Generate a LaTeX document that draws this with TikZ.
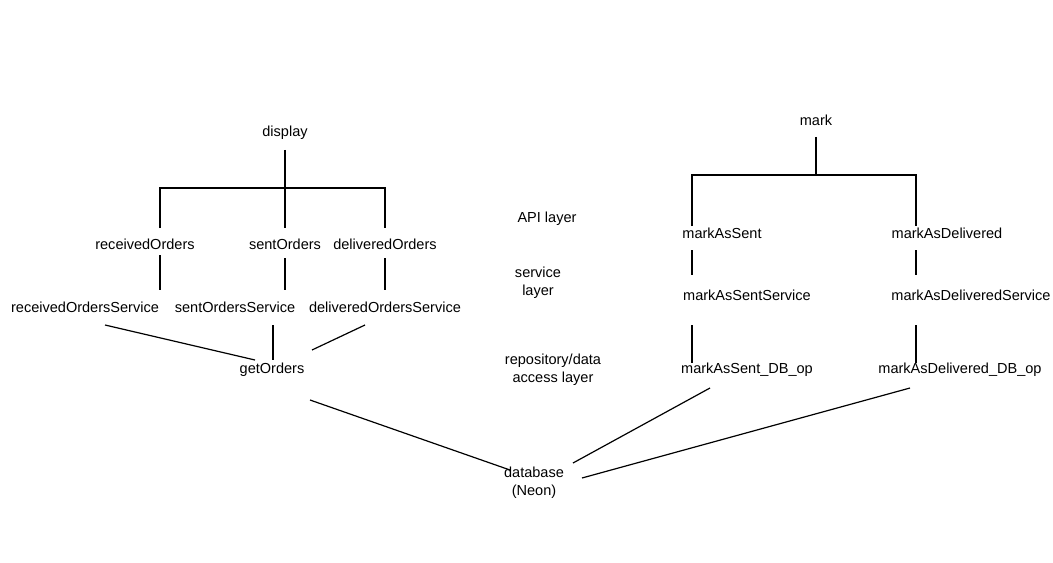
\documentclass[tikz,border=0pt]{standalone}
\usepackage{fontspec}
\setmainfont{Liberation Sans}
\begin{document}
\begin{tikzpicture}[x=0.75pt,y=-0.75pt,
  t/.style={font=\fontsize{10.9pt}{13.5pt}\selectfont,inner sep=1pt,align=center},
  l/.style={line width=0.9pt}]
\useasboundingbox (0,0) rectangle (1053,563);
\node[t] (display) at (285,133) {display};
\node[t] (rO) at (145,244) {receivedOrders};
\node[t] (sO) at (285,244) {sentOrders};
\node[t] (dO) at (385,244) {deliveredOrders};
\node[t] (rOS) at (85,307) {receivedOrdersService};
\node[t] (sOS) at (235,307) {sentOrdersService};
\node[t] (dOS) at (385,307) {deliveredOrdersService};
\node[t] (gO) at (272,370) {getOrders};
\node[t] (db) at (534,483) {database\\(Neon)};
\node[t] (api) at (547,219) {API layer};
\node[t] (svc) at (538,283) {service\\layer};
\node[t] (repo) at (553,370) {repository/data\\access layer};
\node[t] (mark) at (816,120) {mark};
\node[t] (mS) at (722,233) {markAsSent};
\node[t] (mD) at (947,233) {markAsDelivered};
\node[t] (mSS) at (747,295) {markAsSentService};
\node[t] (mDS) at (971,295) {markAsDeliveredService};
\node[t] (mSD) at (747,370) {markAsSent\_DB\_op};
\node[t] (mDD) at (960,370) {markAsDelivered\_DB\_op};
% left tree
\coordinate (j) at (285,188);
\draw[l] (285,150) -- (j);
\draw[l] (160,228) -- (160,188) -- (385,188) -- (385,228);
\draw[l] (j) -- (285,228);
\draw[l] (160,255) -- (160,290);
\draw[l] (285,258) -- (285,290);
\draw[l] (385,258) -- (385,290);
\draw[l] (105,325) -- (255,360);
\draw[l] (273,325) -- (273,360);
\draw[l] (365,325) -- (312,350);
\draw[l] (310,400) -- (510,470);
% right tree
\draw[l] (816,137) -- (816,175);
\draw[l] (692,226) -- (692,175) -- (916,175) -- (916,226);
\draw[l] (692,250) -- (692,275);
\draw[l] (916,250) -- (916,275);
\draw[l] (692,325) -- (692,363);
\draw[l] (916,325) -- (916,363);
\draw[l] (710,388) -- (573,463);
\draw[l] (910,388) -- (582,478);
\end{tikzpicture}
\end{document}
